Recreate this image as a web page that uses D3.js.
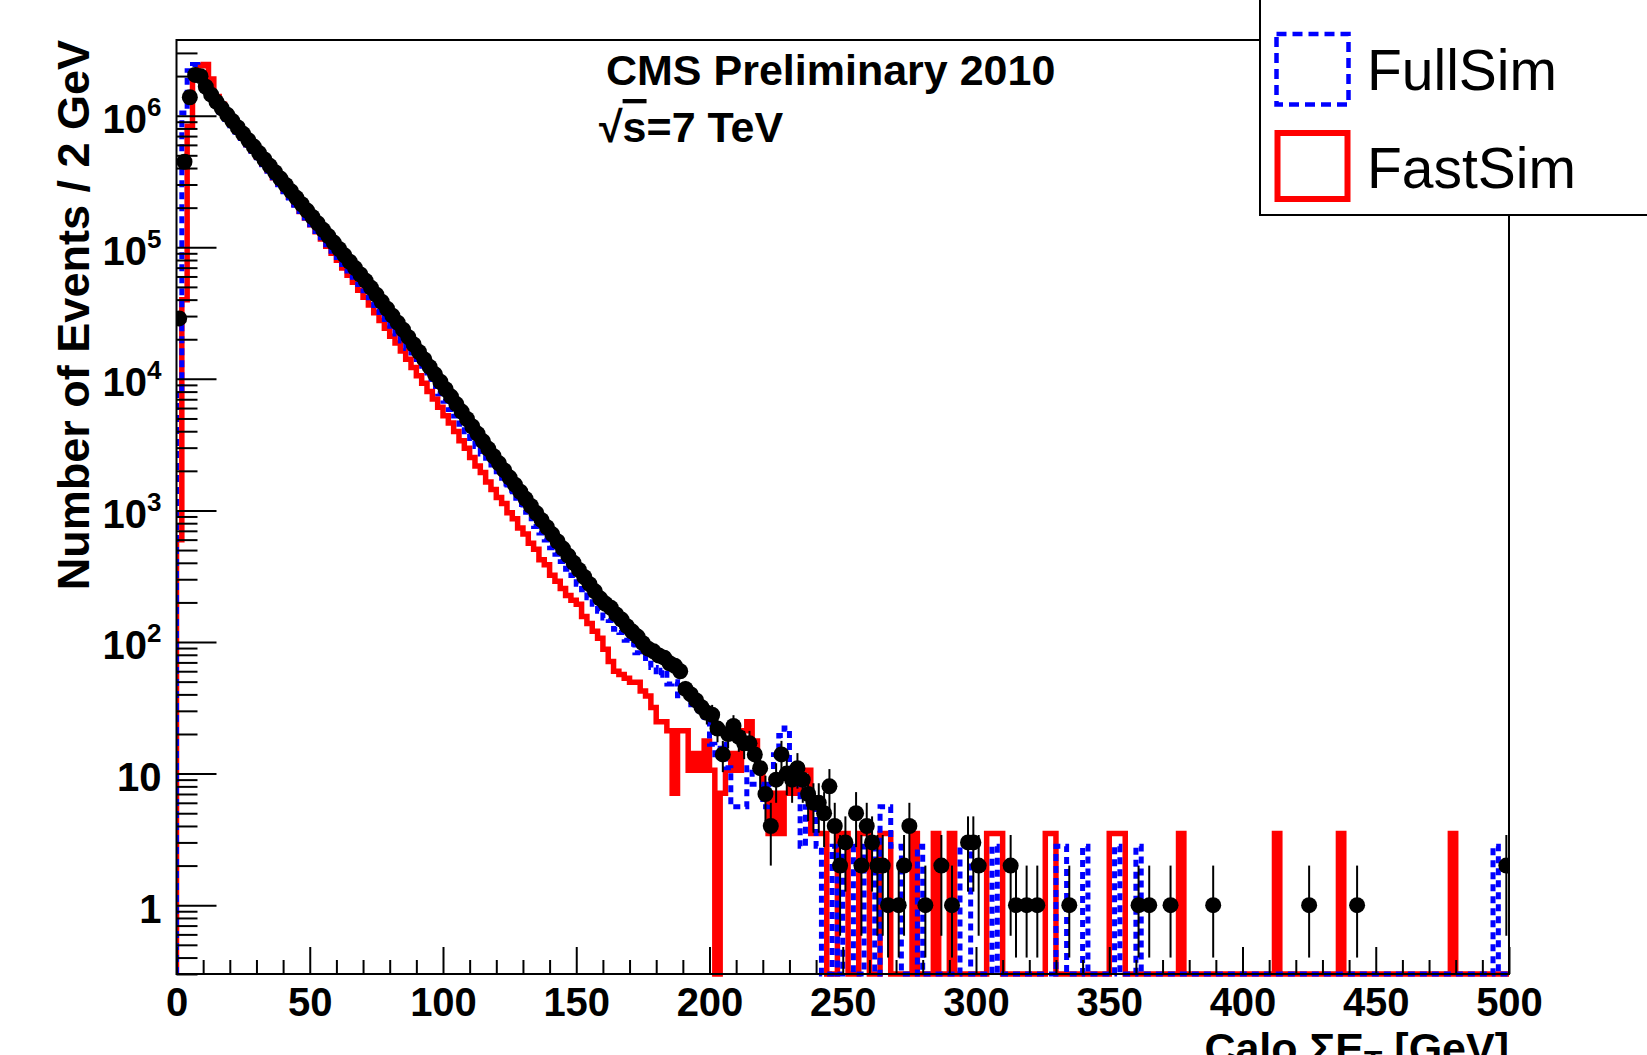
<!DOCTYPE html>
<html><head><meta charset="utf-8">
<script src="https://cdn.jsdelivr.net/npm/d3@7"></script>
<style>html,body{margin:0;padding:0;background:#fff;}svg{display:block;}</style>
</head><body>
<svg id="c" width="1647" height="1055"></svg>
<script>
// ---------------- data (Calo Sum ET, 2 GeV bins from 0 to 500) ----------------
const binWidth = 2;
const xDomain = [0, 500];
const yDomain = [0.3, 3.76e6];
const errFloor = 0.4;

const dataCounts = [
  28800, 446700, 1380000, 2040000, 1995000, 1660000, 1445000, 1274000, 1138000, 1016000,
  909900, 812800, 727800, 650100, 582100, 520000, 464500, 415900, 371500, 332700,
  297200, 266100, 237700, 212300, 190100, 169800, 152100, 135800, 121600, 108600,
  97050, 86900, 77620, 69500, 62090, 55590, 49200, 43550, 38550, 34120,
  30200, 26730, 23660, 20750, 18240, 16000, 14060, 12330, 10820, 9506,
  8337, 7328, 6427, 5636, 4955, 4345, 3819, 3350, 2938, 2582,
  2280, 2014, 1778, 1570, 1387, 1225, 1081, 955, 843, 745,
  658, 581, 513, 453, 400, 353, 312, 275, 243, 214,
  195, 182, 162, 148, 132, 120, 110, 98, 89, 85,
  79, 76, 69, 66, 60, 44, 40, 36, 32, 29,
  28, 22, 14, 20, 23, 19, 17, 17, 14, 11,
  7, 4, 9, 14, 10, 9, 11, 9, 7, 6,
  6, 5, 8, 4, 2, 3, 0, 5, 2, 4,
  3, 2, 2, 1, 0, 1, 2, 4, 0, 0,
  1, 0, 0, 2, 0, 1, 0, 0, 3, 3,
  2, 0, 0, 0, 0, 0, 2, 1, 0, 1,
  0, 1, 0, 0, 0, 0, 0, 1, 0, 0,
  0, 0, 0, 0, 0, 0, 0, 0, 0, 0,
  1, 0, 1, 0, 0, 0, 1, 0, 0, 0,
  0, 0, 0, 0, 1, 0, 0, 0, 0, 0,
  0, 0, 0, 0, 0, 0, 0, 0, 0, 0,
  0, 0, 1, 0, 0, 0, 0, 0, 0, 0,
  0, 1, 0, 0, 0, 0, 0, 0, 0, 0,
  0, 0, 0, 0, 0, 0, 0, 0, 0, 0,
  0, 0, 0, 0, 0, 0, 0, 0, 0, 2
];

const fullSimCounts = [
  8000, 1050000, 2200000, 2450000, 2150000, 1600000, 1380000, 1200000, 1060000, 940000,
  837000, 748000, 670000, 598000, 535500, 478000, 423000, 378000, 338000, 299000,
  264500, 237000, 209000, 187000, 167000, 148000, 132000, 118000, 104600, 93400,
  83500, 73900, 66000, 59100, 52200, 46700, 41300, 36100, 32000, 28300,
  25100, 21900, 19400, 17000, 14960, 13100, 11530, 9990, 8760, 7700,
  6750, 5860, 5210, 4510, 3960, 3520, 3055, 2680, 2350, 2040,
  1824, 1590, 1422, 1240, 1110, 968, 865, 754, 674, 596,
  520, 465, 410, 358, 320, 275, 250, 217, 194, 171,
  152, 146, 125, 118, 103, 96, 83, 80, 69, 64,
  56, 61, 48, 50, 39, 39, 33.4, 30.6, 27.8, 25,
  16.7, 13.9, 16.7, 11.1, 5.6, 5.6, 5.6, 11.1, 8.3, 8.3,
  5.6, 8.3, 13.9, 19.5, 22.2, 11.1, 8.3, 2.8, 5.6, 5.6,
  2.8, 0, 0, 2.8, 0, 2.8, 2.8, 0, 0, 2.8,
  2.8, 0, 5.6, 5.6, 2.8, 2.8, 0, 0, 0, 2.8,
  0, 0, 0, 0, 0, 0, 0, 2.8, 2.8, 0,
  0, 0, 0, 2.8, 0, 0, 0, 0, 0, 0,
  0, 0, 0, 0, 0, 2.8, 2.8, 0, 0, 0,
  2.8, 0, 0, 0, 0, 0, 2.8, 0, 0, 0,
  2.8, 0, 0, 0, 0, 0, 0, 0, 0, 0,
  0, 0, 0, 0, 0, 0, 0, 0, 0, 0,
  0, 0, 0, 0, 0, 0, 0, 0, 0, 0,
  0, 0, 0, 0, 0, 0, 0, 0, 0, 0,
  0, 0, 0, 0, 0, 0, 0, 0, 0, 0,
  0, 0, 0, 0, 0, 0, 0, 0, 0, 0,
  0, 0, 0, 0, 0, 0, 0, 2.8, 0, 0
];

const fastSimCounts = [
  600, 40000, 830000, 2100000, 2400000, 2450000, 1900000, 1400000, 1220000, 1040000,
  864000, 764000, 684000, 605000, 541000, 484000, 427000, 383000, 338000, 303000,
  267500, 239500, 211500, 187000, 167000, 148000, 131000, 115400, 102000, 90100,
  79600, 69500, 61300, 54200, 47200, 41700, 36400, 31800, 27800, 24200,
  21100, 18700, 16300, 14100, 12200, 10560, 9280, 8010, 7030, 6080,
  5250, 4620, 3985, 3380, 2970, 2520, 2180, 1945, 1645, 1445,
  1255, 1128, 960, 864, 735, 662, 562, 506, 422, 387,
  322, 290, 255, 226, 208, 194, 156, 138, 121, 107,
  88, 71, 60, 56.6, 53.1, 49.5, 49.5, 42.5, 38.9, 31.8,
  24.8, 24.8, 21.2, 7.1, 21.2, 21.2, 10.6, 14.2, 10.6, 17.7,
  10.6, 0, 7.1, 10.6, 14.2, 10.6, 21.2, 24.8, 17.7, 10.6,
  7.1, 3.5, 7.1, 3.5, 7.1, 10.6, 7.1, 10.6, 10.6, 3.5,
  3.5, 3.5, 0, 0, 3.5, 3.5, 0, 0, 3.5, 3.5,
  0, 0, 3.5, 3.5, 0, 0, 0, 0, 3.5, 0,
  0, 0, 3.5, 0, 0, 3.5, 0, 0, 0, 0,
  0, 0, 3.5, 3.5, 3.5, 0, 0, 0, 0, 0,
  0, 0, 0, 3.5, 3.5, 0, 0, 0, 0, 0,
  0, 0, 0, 0, 0, 3.5, 3.5, 3.5, 0, 0,
  0, 0, 0, 0, 0, 0, 0, 0, 3.5, 0,
  0, 0, 0, 0, 0, 0, 0, 0, 0, 0,
  0, 0, 0, 0, 0, 0, 3.5, 0, 0, 0,
  0, 0, 0, 0, 0, 0, 0, 0, 3.5, 0,
  0, 0, 0, 0, 0, 0, 0, 0, 0, 0,
  0, 0, 0, 0, 0, 0, 0, 0, 0, 3.5,
  0, 0, 0, 0, 0, 0, 0, 0, 0, 0
];

const xMajorTicks = [0, 50, 100, 150, 200, 250, 300, 350, 400, 450, 500];
const xMinorStep = 10;
const yMajorTicks = [1, 10, 100, 1000, 10000, 100000, 1000000];
const yTickBase = ["1", "10", "10", "10", "10", "10", "10"];
const yTickExp  = ["", "", "2", "3", "4", "5", "6"];
const legendLabels = ["FullSim", "FastSim"];
const titleText = "CMS Preliminary 2010";
const energyText = "=7 TeV";
const yTitle = "Number of Events / 2 GeV";

// ---------------- layout ----------------
const FONT = "'Liberation Sans', Arial, Helvetica, sans-serif";
const frame = {left: 176.5, right: 1509, top: 40, bottom: 974};
const svg = d3.select("#c");
svg.append("rect").attr("width", 1647).attr("height", 1055).attr("fill", "#fff");

const x = d3.scaleLinear().domain(xDomain).range([frame.left, frame.right]);
const y = d3.scaleLog().domain(yDomain).range([frame.bottom, frame.top]);

svg.append("defs").append("clipPath").attr("id", "plotclip")
  .append("rect").attr("x", x(xDomain[0])).attr("y", y(yDomain[1]))
  .attr("width", x(xDomain[1]) - x(xDomain[0])).attr("height", y(yDomain[0]) - y(yDomain[1]) + 3);

const plot = svg.append("g").attr("clip-path", "url(#plotclip)");

function histPoints(counts) {
  const lo = yDomain[0];
  const pts = [[xDomain[0], lo]];
  counts.forEach((c, i) => pts.push([xDomain[0] + i * binWidth, Math.max(c, lo)]));
  const end = xDomain[0] + counts.length * binWidth;
  pts.push([end, Math.max(counts[counts.length - 1], lo)]);
  pts.push([end, lo]);
  return pts;
}
const stepLine = d3.line().x(d => x(d[0])).y(d => y(d[1])).curve(d3.curveStepAfter);

// FastSim (red solid)
plot.append("path").attr("d", stepLine(histPoints(fastSimCounts)))
  .attr("fill", "none").attr("stroke", "#ff0000").attr("stroke-width", 5.5)
  .attr("stroke-linejoin", "miter");
// FullSim (blue dashed)
plot.append("path").attr("d", stepLine(histPoints(fullSimCounts)))
  .attr("fill", "none").attr("stroke", "#0000ff").attr("stroke-width", 5)
  .attr("stroke-dasharray", "7,5").attr("stroke-linejoin", "miter");

// Data points with error bars
const pts = dataCounts.map((c, i) => ({xc: xDomain[0] + (i + 0.5) * binWidth, c}))
  .filter(d => d.c > 0);
plot.append("g").selectAll("line").data(pts).join("line")
  .attr("x1", d => x(d.xc)).attr("x2", d => x(d.xc))
  .attr("y1", d => y(d.c + Math.sqrt(d.c)))
  .attr("y2", d => y(Math.max(d.c - Math.sqrt(d.c), errFloor)))
  .attr("stroke", "#000").attr("stroke-width", 2);
plot.append("g").selectAll("circle").data(pts).join("circle")
  .attr("cx", d => x(d.xc)).attr("cy", d => y(d.c)).attr("r", 8).attr("fill", "#000");

// ---------------- axes ----------------
const yMinorTicks = [];
for (let n = -1; n <= 6; n++) for (let k = 2; k <= 9; k++) {
  const v = k * Math.pow(10, n);
  if (v >= yDomain[0] && v <= yDomain[1]) yMinorTicks.push(v);
}
const xMinorTicks = d3.range(xDomain[0], xDomain[1] + 1, xMinorStep).filter(v => !xMajorTicks.includes(v));

function styleAxis(g) {
  g.select(".domain").remove();
  g.selectAll(".tick line").attr("stroke", "#000").attr("stroke-width", 2);
  g.selectAll(".tick text").attr("fill", "#000").attr("font-family", FONT)
    .attr("font-weight", "bold").attr("font-size", 40);
}

const gyMinor = svg.append("g").attr("transform", `translate(${frame.left},0)`)
  .call(d3.axisLeft(y).tickValues(yMinorTicks).tickSizeInner(-21).tickSizeOuter(0).tickFormat(() => ""));
styleAxis(gyMinor);
const gy = svg.append("g").attr("transform", `translate(${frame.left},0)`)
  .call(d3.axisLeft(y).tickValues(yMajorTicks).tickSizeInner(-40).tickSizeOuter(0).tickPadding(15).tickFormat(() => ""));
styleAxis(gy);
gy.selectAll(".tick text").attr("dy", "0.42em").each(function(d, i) {
  const t = d3.select(this);
  t.text(null);
  t.append("tspan").text(yTickBase[i]);
  if (yTickExp[i]) t.append("tspan").attr("font-size", 26).attr("dy", -17).text(yTickExp[i]);
});

const gxMinor = svg.append("g").attr("transform", `translate(0,${frame.bottom})`)
  .call(d3.axisBottom(x).tickValues(xMinorTicks).tickSizeInner(-14).tickSizeOuter(0).tickFormat(() => ""));
styleAxis(gxMinor);
const gx = svg.append("g").attr("transform", `translate(0,${frame.bottom})`)
  .call(d3.axisBottom(x).tickValues(xMajorTicks).tickSizeInner(-27).tickSizeOuter(0).tickPadding(14).tickFormat(d3.format("d")));
styleAxis(gx);

// frame
svg.append("rect").attr("x", frame.left).attr("y", frame.top)
  .attr("width", frame.right - frame.left).attr("height", frame.bottom - frame.top)
  .attr("fill", "none").attr("stroke", "#000").attr("stroke-width", 2);

// ---------------- texts ----------------
svg.append("text").attr("x", 606).attr("y", 85).attr("font-family", FONT)
  .attr("font-weight", "bold").attr("font-size", 43).attr("fill", "#000").text(titleText);

const st = svg.append("text").attr("x", 599).attr("y", 142).attr("font-family", FONT)
  .attr("font-weight", "bold").attr("font-size", 43).attr("fill", "#000");
st.append("tspan").text("\u221A");
st.append("tspan").attr("text-decoration", "overline").style("text-decoration", "overline").text("s");
st.append("tspan").text(energyText);

svg.append("text").attr("transform", `translate(89,${frame.top}) rotate(-90)`)
  .attr("text-anchor", "end").attr("font-family", FONT).attr("font-weight", "bold")
  .attr("font-size", 45).attr("fill", "#000").text(yTitle);

const xt = svg.append("text").attr("x", frame.right).attr("y", 1063).attr("text-anchor", "end")
  .attr("font-family", FONT).attr("font-weight", "bold").attr("font-size", 43).attr("fill", "#000");
xt.append("tspan").text("Calo \u03A3E");
xt.append("tspan").attr("font-size", 30).attr("dy", 8).text("T");
xt.append("tspan").attr("dy", -8).text(" [GeV]");

// ---------------- legend ----------------
const lg = svg.append("g");
lg.append("rect").attr("x", 1260).attr("y", -10).attr("width", 420).attr("height", 225)
  .attr("fill", "#fff").attr("stroke", "#000").attr("stroke-width", 2);
const legendStyles = [
  {color: "#0000ff", width: 4.5, dash: "10,6", box: [1276.5, 34, 72, 70.5], ty: 90},
  {color: "#ff0000", width: 6, dash: null, box: [1277.5, 133, 70, 66], ty: 188}
];
legendLabels.forEach((lab, i) => {
  const s = legendStyles[i];
  lg.append("rect").attr("x", s.box[0]).attr("y", s.box[1]).attr("width", s.box[2]).attr("height", s.box[3])
    .attr("fill", "none").attr("stroke", s.color).attr("stroke-width", s.width)
    .attr("stroke-dasharray", s.dash);
  lg.append("text").attr("x", 1367).attr("y", s.ty).attr("font-family", FONT)
    .attr("font-size", 57).attr("fill", "#000").text(lab);
});
</script>
</body></html>
